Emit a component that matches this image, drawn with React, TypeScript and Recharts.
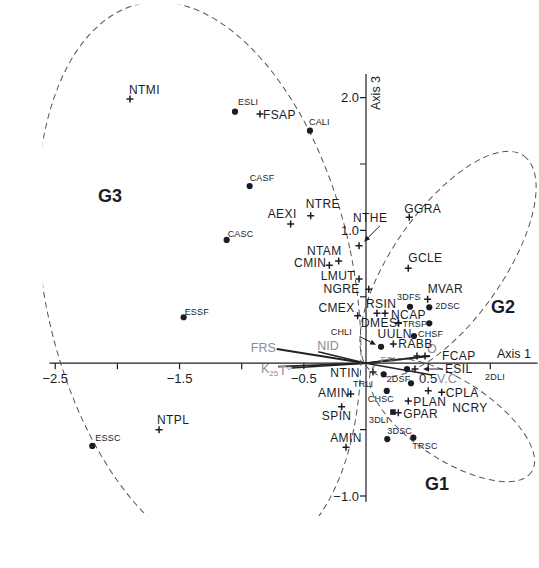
import { ScatterChart, Scatter, XAxis, YAxis, ReferenceLine } from "recharts";

const W = 539;
const H = 568;
const X_DOMAIN: [number, number] = [-2.6, 1.38];
const Y_DOMAIN: [number, number] = [-1.15, 2.7];
const MARGIN = { top: 4.64, right: 1.47, bottom: 52.08, left: 42.82 };

const INK = "#1c1c26";
const GREY = "#8a8d96";
const FONT = "'Liberation Sans', Arial, sans-serif";

// species scores (+ markers)
const speciesNames = [
  "NTMI", "FSAP", "AEXI", "NTRE", "NTAM", "CMIN", "NTHE", "GGRA", "GCLE", "LMUT",
  "NGRE", "MVAR", "RSIN", "CMEX", "NCAP", "DMES", "UULN", "RABB", "FCAP", "",
  "ESIL", "NTIN", "AMIN", "SPIN", "AMIN", "NCRY", "CPLA", "PLAN", "GPAR", "NTPL",
];
const speciesX = [
  -1.899, -0.853, -0.606, -0.445, -0.22, -0.295, -0.056, 0.348, 0.34, -0.056,
  0.022, 0.496, 0.088, -0.067, 0.153, 0.26, 0.262, 0.22, 0.475, 0.41,
  0.394, 0.056, -0.123, -0.196, -0.161, 0.501, 0.609, 0.34, 0.26, -1.665,
];
const speciesY = [
  1.989, 1.876, 1.048, 1.111, 0.77, 0.737, 0.885, 1.099, 0.715, 0.634,
  0.556, 0.481, 0.376, 0.358, 0.376, 0.305, 0.3, 0.145, 0.054, 0.054,
  -0.044, -0.066, -0.232, -0.328, -0.633, -0.207, -0.219, -0.285, -0.373, -0.502,
];
// label placement: [anchor, dx, dy]
const speciesLabelPos: [string, number, number][] = [
  ["start", -1, -5], ["start", 3, 5], ["end", 6, -6], ["start", -5, -8], ["end", 3, -6],
  ["end", -3, 2], ["start", -6, -24], ["start", -5, -4], ["start", 0, -6], ["end", -4, 1],
  ["end", -9, 4], ["start", 0, -6], ["start", -11, -5], ["end", -3, -4], ["start", 6, 6],
  ["end", -1, 4], ["start", -21, 15], ["start", 5, 4], ["start", 17, 4], ["start", 0, 0],
  ["start", 30, 4], ["end", -13, 5], ["end", -1, 3], ["middle", -5, 13], ["middle", 0, -5],
  ["start", 24, 21], ["start", 4, 5], ["start", 5, 5], ["start", 5, 5], ["start", -2, -6],
];

// site scores (dots)
const siteNames = [
  "ESLI", "CALI", "CASF", "CASC", "ESSF", "ESSC", "3DFS", "2DSC", "TRSP", "CHSF",
  "CHLI", "2DSF", "", "", "CHSC", "3DLI", "3DSC", "TRSC",
];
const siteX = [
  -1.054, -0.451, -0.936, -1.121, -1.467, -2.202, 0.354, 0.509, 0.509, 0.386,
  0.121, 0.142, 0.33, 0.362, 0.167, 0.217, 0.171, 0.381,
];
const siteY = [
  1.894, 1.751, 1.334, 0.928, 0.346, -0.623, 0.425, 0.421, 0.3, 0.205,
  0.124, -0.084, -0.044, -0.151, -0.209, -0.368, -0.571, -0.561,
];
const siteLabelPos: [string, number, number][] = [
  ["start", 3, -7], ["start", -1, -6], ["start", 0, -5], ["start", 1, -3], ["start", 1, -2],
  ["start", 3, -5], ["start", -13, -7], ["start", 6, 2], ["end", -2, 4], ["start", 4, 1],
  ["end", -29, -12], ["start", 3, 8], ["start", 0, 0], ["start", 0, 0], ["start", -19, 11],
  ["start", -24, 11], ["start", 0, -5], ["start", -1, 11],
];
const squareSites = ["3DLI"];

// sites whose marker sits under an axis tick
const hiddenSiteNames = ["TRLI", "2DLI"];
const hiddenSiteX = [0, 0.99];
const hiddenSiteY = [-0.104, -0.044];
const hiddenLabelPos: [string, number, number][] = [["start", -13, 10], ["start", -4, 11]];

// environmental vectors
const vectorNames = ["FRS", "NID", "K25", "T°", "ESI", "O", "V.C"];
const vectorX = [-0.718, -0.384, -0.706, -0.598, 0.233, 0.515, 0.531];
const vectorY = [0.107, 0.087, -0.026, -0.036, 0.032, 0.054, -0.089];
const vectorLabelPos: [string, number, number][] = [
  ["end", -1, 3], ["start", -1, -2], ["end", 0, 6], ["end", 0, 7],
  ["end", 0, 4], ["start", -3, -3], ["start", 5, 8],
];
const vectorWidths = [2, 1.5, 1.8, 1.5, 1.2, 2, 1.6];

// groups
const groupNames = ["G3", "G2", "G1"];
const groupCx = [-1.344, 0.66, 0.692];
const groupCy = [0.612, 0.747, -0.428];
const groupLabelX = [-2.06, 1.102, 0.571];
const groupLabelY = [1.214, 0.378, -0.955];
// ellipse size in px: [rx, ry, rotation]
const groupEllipse: [number, number, number][] = [
  [154.5, 284.2, -11.8],
  [132, 55, -55],
  [95, 40, 33],
];

// axes
const xTicks = [-2.5, -2, -1.5, -1, -0.5, 0.5, 1];
const xTickLabels: Record<string, string> = { "-2.5": "−2.5", "-1.5": "−1.5", "-0.5": "−0.5", "0.5": "0.5" };
const yTicks = [2, 1.5, 1, 0.5, -0.5, -1];
const yTickLabels: Record<string, string> = { "2": "2.0", "1": "1.0", "-1": "−1.0" };
const X_AXIS_RANGE = [-2.547, 1.38];
const Y_AXIS_RANGE = [-1.045, 2.178];

const species = speciesNames.map((name, i) => ({ name, x: speciesX[i], y: speciesY[i], pos: speciesLabelPos[i] }));
const sites = siteNames.map((name, i) => ({ name, x: siteX[i], y: siteY[i], pos: siteLabelPos[i] }));
const hiddenSites = hiddenSiteNames.map((name, i) => ({ name, x: hiddenSiteX[i], y: hiddenSiteY[i], pos: hiddenLabelPos[i] }));
const vectors = vectorNames.map((name, i) => ({ name, x: vectorX[i], y: vectorY[i], pos: vectorLabelPos[i], w: vectorWidths[i] }));
const ellipses = groupNames.map((name, i) => ({ name, x: groupCx[i], y: groupCy[i], e: groupEllipse[i] }));
const groupLabels = groupNames.map((name, i) => ({ name, x: groupLabelX[i], y: groupLabelY[i] }));
const xTickData = xTicks.map((v) => ({ x: v, y: 0 }));
const yTickData = yTicks.map((v) => ({ x: 0, y: v }));
const axisTitles = [
  { name: "Axis 1", x: 1.054, y: 0.039, rot: 0 },
  { name: "Axis 3", x: 0.088, y: 2.035, rot: -90 },
];

function Arrow({ x1, y1, x2, y2 }: { x1: number; y1: number; x2: number; y2: number }) {
  const a = Math.atan2(y2 - y1, x2 - x1);
  const L = 6;
  const s = 2.6;
  const bx = x2 - L * Math.cos(a);
  const by = y2 - L * Math.sin(a);
  const p1 = `${bx + s * Math.sin(a)},${by - s * Math.cos(a)}`;
  const p2 = `${bx - s * Math.sin(a)},${by + s * Math.cos(a)}`;
  return (
    <g>
      <line x1={x1} y1={y1} x2={bx} y2={by} stroke={INK} strokeWidth={1} />
      <polygon points={`${x2},${y2} ${p1} ${p2}`} fill={INK} />
    </g>
  );
}

const pointArrows: Record<string, [number, number, number, number]> = {
  NTHE: [21, -20, 5, -4],
  ESIL: [28, 0, 8, 0],
  CHLI: [-21, -10, -5, -2],
};

function PlusShape(props: any) {
  const { cx, cy, payload } = props;
  const [anchor, dx, dy] = payload.pos;
  const s = 3.5;
  const arr = pointArrows[payload.name];
  return (
    <g>
      <path d={`M${cx - s},${cy}H${cx + s}M${cx},${cy - s}V${cy + s}`} stroke={INK} strokeWidth={1.5} />
      {payload.name && (
        <text x={cx + dx} y={cy + dy} textAnchor={anchor} fontSize={12} letterSpacing={0.4} fill={INK} fontFamily={FONT}>
          {payload.name}
        </text>
      )}
      {arr && <Arrow x1={cx + arr[0]} y1={cy + arr[1]} x2={cx + arr[2]} y2={cy + arr[3]} />}
    </g>
  );
}

function DotShape(props: any) {
  const { cx, cy, payload } = props;
  const [anchor, dx, dy] = payload.pos;
  const arr = pointArrows[payload.name];
  const square = squareSites.includes(payload.name);
  return (
    <g>
      {square ? (
        <rect x={cx - 2.8} y={cy - 2.8} width={5.6} height={5.6} fill={INK} />
      ) : (
        <circle cx={cx} cy={cy} r={3.1} fill={INK} />
      )}
      {payload.name && (
        <text x={cx + dx} y={cy + dy} textAnchor={anchor} fontSize={9} letterSpacing={0.2} fill={INK} fontFamily={FONT}>
          {payload.name}
        </text>
      )}
      {arr && <Arrow x1={cx + arr[0]} y1={cy + arr[1]} x2={cx + arr[2]} y2={cy + arr[3]} />}
    </g>
  );
}

function HiddenSiteShape(props: any) {
  const { cx, cy, payload } = props;
  const [anchor, dx, dy] = payload.pos;
  return (
    <text x={cx + dx} y={cy + dy} textAnchor={anchor} fontSize={9} letterSpacing={0.2} fill={INK} fontFamily={FONT}>
      {payload.name}
    </text>
  );
}

function VectorLabel(props: any) {
  const { cx, cy, payload } = props;
  const [anchor, dx, dy] = payload.pos;
  if (payload.name === "K25") {
    return (
      <text x={cx + dx} y={cy + dy} textAnchor={anchor} fontSize={12.5} fill={GREY} fontFamily={FONT}>
        K<tspan fontSize={8} dy={3}>25</tspan>
      </text>
    );
  }
  return (
    <text
      x={cx + dx}
      y={cy + dy}
      textAnchor={anchor}
      fontSize={payload.name === "ESI" ? 9 : 12.5}
      fill={GREY}
      fontFamily={FONT}
    >
      {payload.name}
    </text>
  );
}

function EllipseShape(props: any) {
  const { cx, cy, payload } = props;
  const [rx, ry, rot] = payload.e;
  return (
    <ellipse
      cx={cx}
      cy={cy}
      rx={rx}
      ry={ry}
      transform={`rotate(${rot} ${cx} ${cy})`}
      fill="none"
      stroke="#555"
      strokeWidth={1}
      strokeDasharray="6 4"
    />
  );
}

function GroupLabel(props: any) {
  const { cx, cy, payload } = props;
  return (
    <text x={cx} y={cy} textAnchor="middle" fontSize={18} fontWeight="bold" fill={INK} fontFamily={FONT}>
      {payload.name}
    </text>
  );
}

function XTick(props: any) {
  const { cx, cy, payload } = props;
  const label = xTickLabels[String(payload.x)];
  return (
    <g>
      <line x1={cx} y1={cy} x2={cx} y2={cy + 6} stroke={INK} strokeWidth={1.2} />
      {label && (
        <text x={cx} y={cy + 20} textAnchor="middle" fontSize={13} fill={INK} fontFamily={FONT}>
          {label}
        </text>
      )}
    </g>
  );
}

function YTick(props: any) {
  const { cx, cy, payload } = props;
  const label = yTickLabels[String(payload.y)];
  return (
    <g>
      <line x1={cx - 6} y1={cy} x2={cx} y2={cy} stroke={INK} strokeWidth={1.2} />
      {label && (
        <text x={cx - 7} y={cy + 4.5} textAnchor="end" fontSize={13} fill={INK} fontFamily={FONT}>
          {label}
        </text>
      )}
    </g>
  );
}

function AxisTitle(props: any) {
  const { cx, cy, payload } = props;
  return (
    <text
      x={cx}
      y={cy}
      textAnchor={payload.rot ? "middle" : "start"}
      transform={payload.rot ? `rotate(${payload.rot} ${cx} ${cy})` : undefined}
      dominantBaseline={payload.rot ? "middle" : undefined}
      fontSize={12.5}
      fill={INK}
      fontFamily={FONT}
    >
      {payload.name}
    </text>
  );
}

export default function App() {
  return (
    <div style={{ position: "absolute", left: 0, top: 0, width: W, height: H, background: "#fff" }}>
      <ScatterChart width={W} height={H} margin={MARGIN}>
        <XAxis type="number" dataKey="x" domain={X_DOMAIN} hide allowDataOverflow />
        <YAxis type="number" dataKey="y" domain={Y_DOMAIN} hide allowDataOverflow />
        <Scatter data={ellipses} shape={EllipseShape} isAnimationActive={false} />
        <ReferenceLine segment={[{ x: X_AXIS_RANGE[0], y: 0 }, { x: X_AXIS_RANGE[1], y: 0 }]} stroke={INK} strokeWidth={1.2} />
        <ReferenceLine segment={[{ x: 0, y: Y_AXIS_RANGE[0] }, { x: 0, y: Y_AXIS_RANGE[1] }]} stroke={INK} strokeWidth={1.2} />
        {vectors.map((v) => (
          <ReferenceLine
            key={v.name}
            segment={[{ x: 0, y: 0 }, { x: v.x, y: v.y }]}
            stroke="#222"
            strokeWidth={v.w}
          />
        ))}
        <Scatter data={xTickData} shape={XTick} isAnimationActive={false} />
        <Scatter data={yTickData} shape={YTick} isAnimationActive={false} />
        <Scatter data={axisTitles} shape={AxisTitle} isAnimationActive={false} />
        <Scatter data={vectors} shape={VectorLabel} isAnimationActive={false} />
        <Scatter data={sites} shape={DotShape} isAnimationActive={false} />
        <Scatter data={hiddenSites} shape={HiddenSiteShape} isAnimationActive={false} />
        <Scatter data={species} shape={PlusShape} isAnimationActive={false} />
        <Scatter data={groupLabels} shape={GroupLabel} isAnimationActive={false} />
      </ScatterChart>
    </div>
  );
}
